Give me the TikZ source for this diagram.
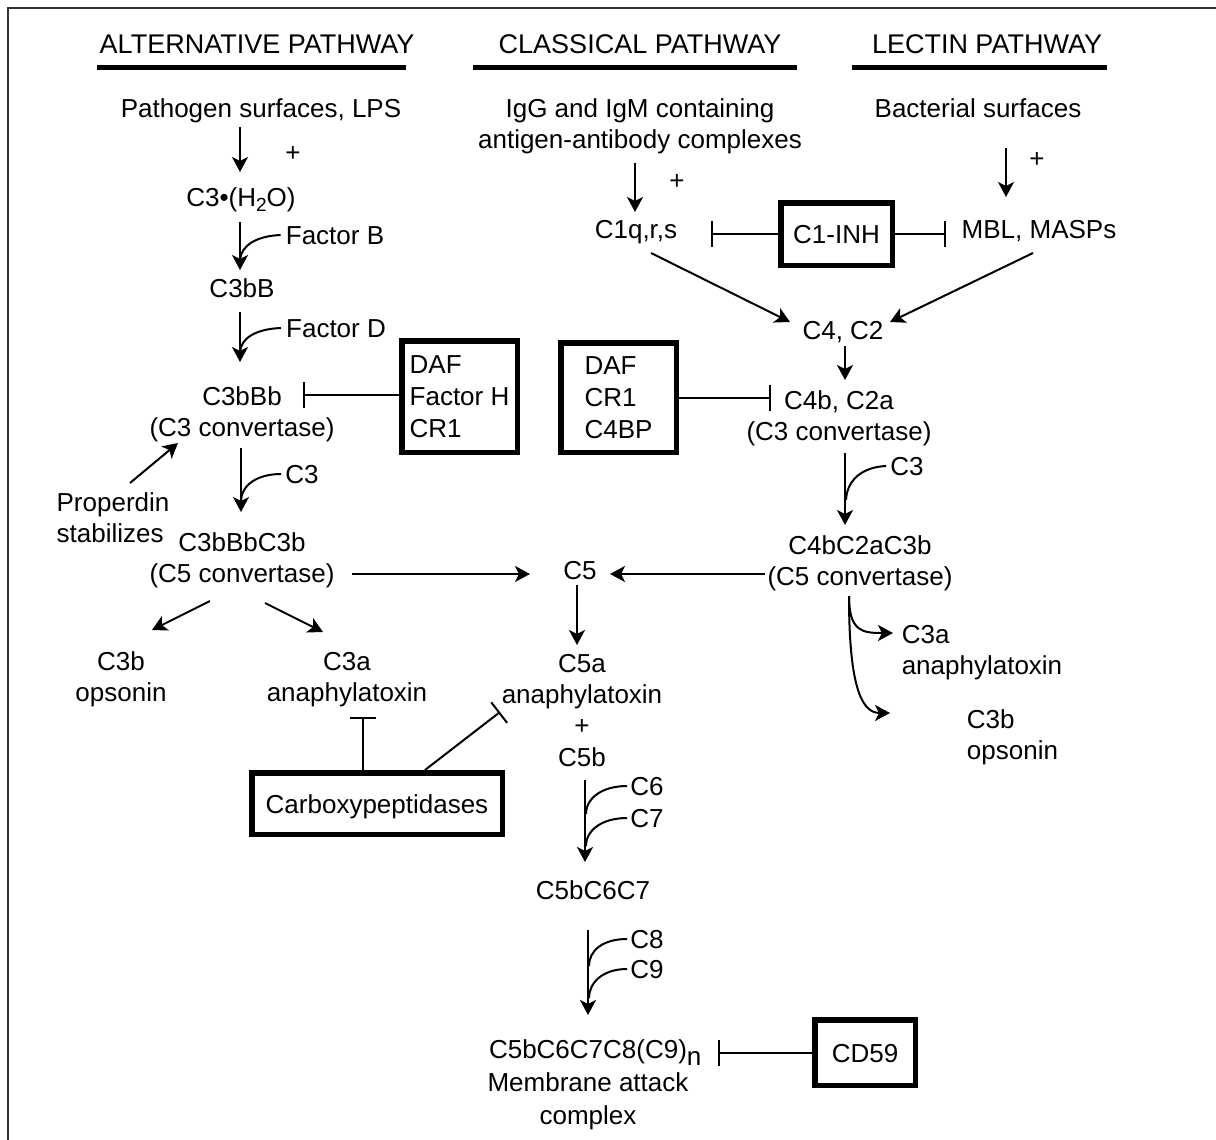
\documentclass[tikz,border=0pt]{standalone}
\usepackage{fontspec}
\setmainfont{Liberation Sans}
\usetikzlibrary{arrows.meta,calc}
\newcommand\mysub[1]{\raisebox{-5pt}{\fontsize{19}{19}\selectfont #1}}
\tikzset{
 lbl/.style={inner sep=0pt, text height=22pt, text depth=2.5pt},
 hdr/.style={lbl, font=\fontsize{27}{31}\selectfont},
 ml/.style={inner sep=0pt, align=center},
 mll/.style={inner sep=0pt, align=left},
 ibox/.style={draw, line width=5.5pt, inner sep=0pt},
 arr/.style={line width=2pt, -{Stealth[length=15pt,width=16pt,inset=4pt]}},
 inh/.style={line width=2pt, -{Bar[width=26pt]}},
 feed/.style={line width=2pt},
 uline/.style={line width=5pt},
}
\begin{document}
\begin{tikzpicture}[x=1pt,y=-1pt,font=\fontsize{26}{31}\selectfont]
\useasboundingbox (0,0) rectangle (1216,1140);
\fill[white] (0,0) rectangle (1216,1140);
% frame
\draw[line width=2.5pt, black!80] (8,1140) -- (8,8) -- (1216,8);

% headers
\node[hdr] (hAlt) at (257,44) {ALTERNATIVE PATHWAY};
\node[hdr] (hCls) at (640,44) {CLASSICAL PATHWAY};
\node[hdr] (hLec) at (987,44) {LECTIN PATHWAY};
\draw[uline] (97,68) -- (406,68);
\draw[uline] (473,68) -- (797,68);
\draw[uline] (852,68) -- (1107,68);

% alternative pathway
\node[lbl] (pls) at (261,108) {Pathogen surfaces, LPS};
\node[lbl] (plus1) at (293,152) {+};
\node[lbl] (c3h) at (241,197) {C3•(H\mysub{2}O)};
\node[lbl] (facB) at (335,235) {Factor B};
\node[lbl] (c3bB) at (242,288) {C3bB};
\node[lbl] (facD) at (336,328) {Factor D};
\node[ml] (c3bBb) at (242,414) {C3bBb\\(C3 convertase)};
\node[ibox, align=left, font=\fontsize{26}{32}\selectfont, minimum width=115.5pt, minimum height=111.5pt] (box1) at (459.5,396.5) {DAF\\Factor H\\CR1};
\node[mll] (prop) at (113,518) {Properdin\\stabilizes};
\node[lbl] (c3L) at (302,474) {C3};
\node[ml] (c3bBbC3b) at (242,560) {C3bBbC3b\\(C5 convertase)};
\node[ml] (c3bL) at (121,679.5) {C3b\\opsonin};
\node[ml] (c3aL) at (347,679.5) {C3a\\anaphylatoxin};
\node[ibox, lbl, minimum width=250.5pt, minimum height=61.5pt] (carb) at (377,803.5) {Carboxypeptidases};

% classical / lectin
\node[ml] (igg) at (640,126.5) {IgG and IgM containing\\antigen-antibody complexes};
\node[lbl] (plus2) at (677,180) {+};
\node[lbl] (c1q) at (636,229) {C1q,r,s};
\node[ibox, lbl, minimum width=111.5pt, minimum height=62.5pt] (c1inh) at (836.5,234) {C1-INH};
\node[lbl] (mbl) at (1039,229) {MBL, MASPs};
\node[lbl] (bact) at (978,108) {Bacterial surfaces};
\node[lbl] (plus3) at (1037,158) {+};
\node[lbl] (c4c2) at (843,330) {C4, C2};
\node[ml] (c4bc2a) at (839,418.5) {C4b, C2a\\(C3 convertase)};
\node[ibox, align=left, font=\fontsize{26}{32}\selectfont, minimum width=115.5pt, minimum height=109.5pt] (box2) at (618.5,397.5) {DAF\\CR1\\C4BP};
\node[lbl] (c3R) at (907,466) {C3};
\node[ml] (c4bc2ac3b) at (860,563.5) {C4bC2aC3b\\(C5 convertase)};
\node[lbl] (c5) at (580,570) {C5};
\node[ml] (c5a) at (582,711) {C5a\\anaphylatoxin\\+\\[1pt]C5b};
\node[mll] (c3aR) at (982,652.5) {C3a\\anaphylatoxin};
\node[mll] (c3bR) at (1012.5,737) {C3b\\opsonin};

% terminal pathway
\node[lbl] (c6) at (647,786) {C6};
\node[lbl] (c7) at (647,818) {C7};
\node[lbl] (c5b67) at (593,890) {C5bC6C7};
\node[lbl] (c8) at (647,939) {C8};
\node[lbl] (c9) at (647,969) {C9};
\node[ml, font=\fontsize{26}{33}\selectfont] (mac) at (588,1085) {C5bC6C7C8(C9)\rlap{\raisebox{-7pt}{n}}\\Membrane attack\\complex};
\node[ibox, lbl, minimum width=100.5pt, minimum height=65.5pt] (cd59) at (865,1052.5) {CD59};

% ---- connectors: alternative
\draw[arr] ($(pls)+(-21,19)$) -- ($(c3h)+(-1,-25)$);
\draw[arr] ($(c3h)+(-1,25)$) -- ($(c3bB)+(-2,-18)$);
\draw[feed] ($(facB.west)+(-5,0)$) .. controls ($(facB.west)+(-30,1)$) and ($(c3bB)+(-1,-42)$) .. ($(c3bB)+(-2,-28)$);
\draw[arr] ($(c3bB)+(-2,24)$) -- ($(c3bBb)+(-2,-52)$);
\draw[feed] ($(facD.west)+(-5,0)$) .. controls ($(facD.west)+(-30,1)$) and ($(c3bBb)+(-1,-76)$) .. ($(c3bBb)+(-2,-62)$);
\draw[arr] ($(c3bBb)+(-1,34)$) -- ($(c3bBbC3b)+(-1,-48)$);
\draw[feed] ($(c3L.west)+(-4,0)$) .. controls ($(c3L.west)+(-28,0)$) and ($(c3bBbC3b)+(0,-75)$) .. ($(c3bBbC3b)+(-1,-60)$);
\draw[inh] ($(box1.west)+(0,-2)$) -- ($(c3bBb)+(61,-19.5)$);
\draw[arr] ($(prop)+(17,-35)$) -- ($(c3bBb)+(-64,29)$);
\draw[arr] ($(c3bBbC3b)+(110,14)$) -- ($(c5)+(-50,4)$);
\draw[arr] ($(c3bBbC3b)+(-32,41)$) -- ($(c3bL)+(31,-49.5)$);
\draw[arr] ($(c3bBbC3b)+(23,43)$) -- ($(c3aL)+(-24,-47.5)$);
\draw[inh] ($(carb.north)+(-14,0)$) -- ($(c3aL)+(16,37.5)$);
\draw[inh] ($(carb.north)+(48,0)$) -- ($(c5a)+(-82,1)$);

% ---- connectors: classical / lectin
\draw[arr] ($(igg)+(-5,36.5)$) -- ($(c1q)+(-1,-17)$);
\draw[inh] (c1inh.west) -- ($(c1q)+(75,5)$);
\draw[inh] (c1inh.east) -- ($(mbl)+(-93,5)$);
\draw[arr] ($(bact)+(28,40)$) -- ($(mbl)+(-33,-32)$);
\draw[arr] ($(c1q)+(15,24)$) -- ($(c4c2)+(-53,-8)$);
\draw[arr] ($(mbl)+(-6,24)$) -- ($(c4c2)+(47,-8)$);
\draw[arr] ($(c4c2)+(2,16)$) -- ($(c4bc2a)+(6,-38.5)$);
\draw[inh] (box2.east) -- ($(c4bc2a)+(-68,-21)$);
\draw[arr] ($(c4bc2a)+(6,34.5)$) -- ($(c4bc2ac3b)+(-15,-38.5)$);
\draw[feed] ($(c3R.west)+(-4,0)$) .. controls ($(c3R.west)+(-28,1)$) and ($(c4bc2ac3b)+(-13,-83.5)$) .. ($(c4bc2ac3b)+(-14,-63.5)$);
\draw[arr] ($(c4bc2ac3b)+(-95,10.5)$) -- ($(c5)+(30,4)$);
\draw[arr] ($(c5)+(-3,15)$) -- ($(c5a)+(-5,-66)$);
\draw[arr] ($(c4bc2ac3b)+(-11,32.5)$) .. controls +(0,36) and +(-30,0) .. ($(c3aR)+(-89,-19.5)$);
\draw[arr] ($(c4bc2ac3b)+(-11,32.5)$) .. controls +(0,85) and +(-30,0) .. ($(c3bR)+(-122.5,-24)$);

% ---- connectors: terminal
\draw[arr] ($(c5a)+(3,69)$) -- ($(c5b67)+(-8,-28)$);
\draw[feed] ($(c6.west)+(-3,0)$) .. controls ($(c6.west)+(-28,0)$) and ($(c5b67)+(-7,-92)$) .. ($(c5b67)+(-7,-76)$);
\draw[feed] ($(c7.west)+(-3,0)$) .. controls ($(c7.west)+(-28,0)$) and ($(c5b67)+(-7,-60)$) .. ($(c5b67)+(-7,-44)$);
\draw[arr] ($(c5b67)+(-5,40)$) -- ($(mac)+(0,-70)$);
\draw[feed] ($(c8.west)+(-3,0)$) .. controls ($(c8.west)+(-28,0)$) and ($(mac)+(1,-134)$) .. ($(mac)+(1,-119)$);
\draw[feed] ($(c9.west)+(-3,0)$) .. controls ($(c9.west)+(-28,0)$) and ($(mac)+(1,-102)$) .. ($(mac)+(1,-87)$);
\draw[inh] (cd59.west) -- ($(mac)+(130,-32.5)$);
\end{tikzpicture}
\end{document}
